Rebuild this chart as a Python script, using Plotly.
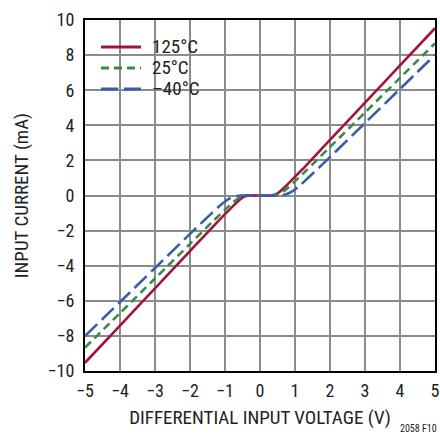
import plotly.graph_objects as go

# Series (differential input voltage in V, input current in mA)
x_125 = [-5, -4, -3, -2, -1.2, -0.8, -0.6, -0.45, -0.3, 0, 0.3, 0.45, 0.6, 0.8, 1.2, 2, 3, 4, 5]
y_125 = [-9.53, -7.41, -5.29, -3.17, -1.47, -0.66, -0.28, -0.06, 0, 0, 0, 0.06, 0.28, 0.66, 1.47, 3.17, 5.29, 7.41, 9.53]

x_25 = [-5, -4, -3, -2, -1.3, -0.95, -0.75, -0.55, -0.35, 0, 0.35, 0.55, 0.75, 0.95, 1.3, 2, 3, 4, 5]
y_25 = [-8.67, -6.70, -4.73, -2.76, -1.38, -0.72, -0.36, -0.08, 0, 0, 0, 0.08, 0.36, 0.72, 1.38, 2.76, 4.73, 6.70, 8.67]

x_m40 = [-5, -4, -3, -2, -1.4, -1.1, -0.9, -0.7, -0.5, 0, 0.5, 0.7, 0.9, 1.1, 1.4, 2, 3, 4, 5]
y_m40 = [-8.01, -6.07, -4.13, -2.19, -1.05, -0.50, -0.20, -0.04, 0, 0, 0, 0.04, 0.20, 0.50, 1.05, 2.19, 4.13, 6.07, 8.01]

series_names = ["125°C", "25°C", "–40°C"]
x_ticks = [-5, -4, -3, -2, -1, 0, 1, 2, 3, 4, 5]
y_ticks = [-10, -8, -6, -4, -2, 0, 2, 4, 6, 8, 10]

FONT = "Liberation Sans Narrow, Roboto Condensed, Arial Narrow, Liberation Sans, sans-serif"
TXT = "#222"

colors = ["#A3143A", "#3A8A4A", "#3C5BAA"]
dashes = ["solid", "8px,5px", "17px,6px"]
series = [(x_125, y_125), (x_25, y_25), (x_m40, y_m40)]

fig = go.Figure()
for (xs, ys), name, c, d in zip(series, series_names, colors, dashes):
    fig.add_trace(go.Scatter(x=xs, y=ys, name=name, mode="lines", showlegend=False,
                             line=dict(color=c, width=2.6, dash=d, shape="spline", smoothing=0.8)))

axis_common = dict(showgrid=True, gridcolor="#8c8c8c", gridwidth=1.5,
                   showline=True, linecolor="black", linewidth=2, mirror=True,
                   ticks="", zeroline=False, automargin=False, ticklabeloverflow="allow",
                   tickfont=dict(family=FONT, size=18, color=TXT),
                   title_font=dict(family=FONT, size=19, color=TXT))

fig.update_xaxes(range=[-5, 5], tickvals=x_ticks, ticklabelstandoff=2,
                 title_text="DIFFERENTIAL INPUT VOLTAGE (V)", title_standoff=11, **axis_common)
fig.update_yaxes(range=[-10, 10], tickvals=y_ticks, ticklabelstandoff=5,
                 title_text="INPUT CURRENT (mA)", title_standoff=14, **axis_common)

# Plot area in page pixels
PL, PW, PT, PH = 85, 350, 20, 351
W, H = 440, 437
def px(xp):
    return (xp - PL) / PW
def py(yp):
    return (PT + PH - yp) / PH

shapes = [dict(type="rect", xref="paper", yref="paper", x0=px(92), x1=px(205), y0=py(103), y1=py(31),
               fillcolor="white", line=dict(width=0), layer="below")]
annotations = []
legend_rows = [47, 68, 89]
for name, c, d, yr in zip(series_names, colors, dashes, legend_rows):
    shapes.append(dict(type="line", xref="paper", yref="paper", x0=px(101), x1=px(141),
                       y0=py(yr), y1=py(yr), line=dict(color=c, width=2.8, dash=d)))
    annotations.append(dict(text=name, xref="paper", yref="paper", x=px(150), y=py(yr),
                            xanchor="left", yanchor="middle", showarrow=False,
                            font=dict(family=FONT, size=19, color=TXT)))

annotations.append(dict(text="2058 F10", x=px(439), y=py(436), xref="paper", yref="paper",
                        xanchor="right", yanchor="bottom", showarrow=False,
                        font=dict(family=FONT, size=10, color=TXT)))

fig.update_layout(
    width=W, height=H,
    margin=dict(l=PL, r=W - PL - PW, t=PT, b=H - PT - PH),
    paper_bgcolor="white", plot_bgcolor="white",
    showlegend=False,
    shapes=shapes,
    annotations=annotations,
)

fig.write_html("out.html", config={"displayModeBar": False},
               post_script="document.body.style.margin='0';document.body.style.overflow='hidden';")
